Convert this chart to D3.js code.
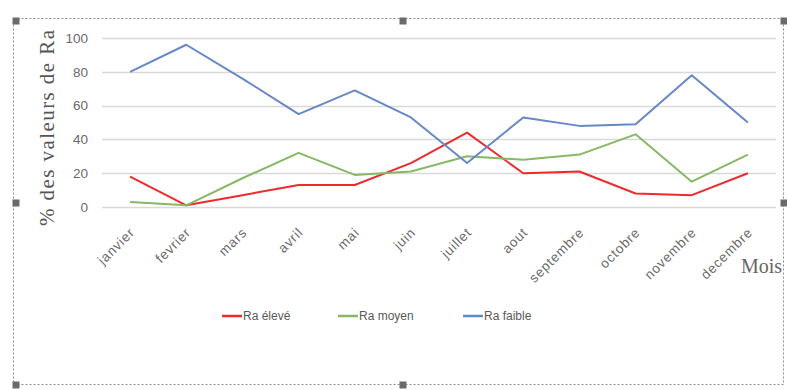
<!DOCTYPE html>
<html>
<head>
<meta charset="utf-8">
<script src="https://cdn.jsdelivr.net/npm/d3@7"></script>
<style>
  html, body { margin: 0; padding: 0; background: #fff; }
  svg { display: block; }
</style>
</head>
<body>
<svg id="chart" width="787" height="390"></svg>
<script>
// Months on the horizontal axis
const months = ["janvier", "fevrier", "mars", "avril", "mai", "juin", "juillet",
                "aout", "septembre", "octobre", "novembre", "decembre"];

// Percentage of Ra values per class, by month
const raEleve  = [18, 1, 7, 13, 13, 26, 44, 20, 21, 8, 7, 20];
const raMoyen  = [3, 1, 17, 32, 19, 21, 30, 28, 31, 43, 15, 31];
const raFaible = [80, 96, 76, 55, 69, 53, 26, 53, 48, 49, 78, 50];

const seriesNames = ["Ra élevé", "Ra moyen", "Ra faible"];
const seriesColors = ["#ee2a2f", "#86b865", "#6688c6"];
const yTicks = [0, 20, 40, 60, 80, 100];

const series = [raEleve, raMoyen, raFaible].map((values, i) => ({
  name: seriesNames[i], color: seriesColors[i], values
}));

const svg = d3.select("#chart");
const sans = "'Liberation Sans', Arial, sans-serif";
const serif = "'Liberation Serif', 'Times New Roman', serif";

// selection frame with handles
const frame = svg.append("g");
frame.append("rect")
  .attr("x", 13.5).attr("y", 18.5).attr("width", 770).attr("height", 366)
  .attr("fill", "none").attr("stroke", "#8a8a8a").attr("stroke-width", 1)
  .attr("stroke-dasharray", "2,2");
[[16, 21], [403, 21], [784, 21], [16, 203], [784, 203], [16, 385], [403, 385]].forEach(([cx, cy]) => {
  frame.append("rect").attr("x", cx - 3.5).attr("y", cy - 3.5)
    .attr("width", 7).attr("height", 7).attr("fill", "#6b6b6b");
});

const x = d3.scaleBand().domain(months).range([102, 776]);
const y = d3.scaleLinear().domain([0, 100]).range([207, 38]);

// gridlines
svg.append("g")
  .selectAll("line").data(yTicks).join("line")
  .attr("x1", 102).attr("x2", 776)
  .attr("y1", d => Math.round(y(d)) + 0.5).attr("y2", d => Math.round(y(d)) + 0.5)
  .attr("stroke", "#d9d9d9").attr("stroke-width", 1.3);

// y axis labels
const yAxis = d3.axisLeft(y).tickValues(yTicks).tickSize(0).tickPadding(0);
const gy = svg.append("g").attr("transform", "translate(88,0)").call(yAxis);
gy.select(".domain").remove();
gy.selectAll("text")
  .attr("fill", "#6a6a6a")
  .attr("font-family", sans)
  .attr("font-size", 13.5);

// x axis labels, rotated
const xAxis = d3.axisBottom(x).tickSize(0).tickPadding(0);
const gx = svg.append("g").attr("transform", "translate(0,230)").call(xAxis);
gx.select(".domain").remove();
gx.selectAll("text")
  .attr("fill", "#6a6a6a")
  .attr("font-family", sans)
  .attr("font-size", 13.5)
  .attr("letter-spacing", 0.8)
  .attr("text-anchor", "end")
  .attr("y", 0)
  .attr("dy", "0.35em")
  .attr("transform", "translate(2,0) rotate(-45)");

// axis titles
svg.append("text")
  .attr("transform", "translate(54,128) rotate(-90)")
  .attr("text-anchor", "middle")
  .attr("font-family", serif)
  .attr("font-size", 21)
  .attr("textLength", 196)
  .attr("lengthAdjust", "spacing")
  .attr("fill", "#555")
  .text("% des valeurs de Ra");

svg.append("text")
  .attr("x", 741).attr("y", 273)
  .attr("font-family", serif)
  .attr("font-size", 20)
  .attr("fill", "#666")
  .text("Mois");

// series lines
const line = d3.line()
  .x((d, i) => x(months[i]) + x.bandwidth() / 2)
  .y(d => y(d));

svg.append("g").selectAll("path").data(series).join("path")
  .attr("d", d => line(d.values))
  .attr("fill", "none")
  .attr("stroke", d => d.color)
  .attr("stroke-width", 2)
  .attr("stroke-linejoin", "round");

// legend
const legendX = [222, 338, 463];
const legend = svg.append("g").selectAll("g").data(series).join("g")
  .attr("transform", (d, i) => `translate(${legendX[i]},316)`);
legend.append("line")
  .attr("x1", 0).attr("x2", 20).attr("y1", 0).attr("y2", 0)
  .attr("stroke", d => d.color).attr("stroke-width", 2.5);
legend.append("text")
  .attr("x", 21).attr("y", 0).attr("dy", "0.35em")
  .attr("font-family", sans)
  .attr("font-size", 12)
  .attr("fill", "#595959")
  .text(d => d.name);
</script>
</body>
</html>
